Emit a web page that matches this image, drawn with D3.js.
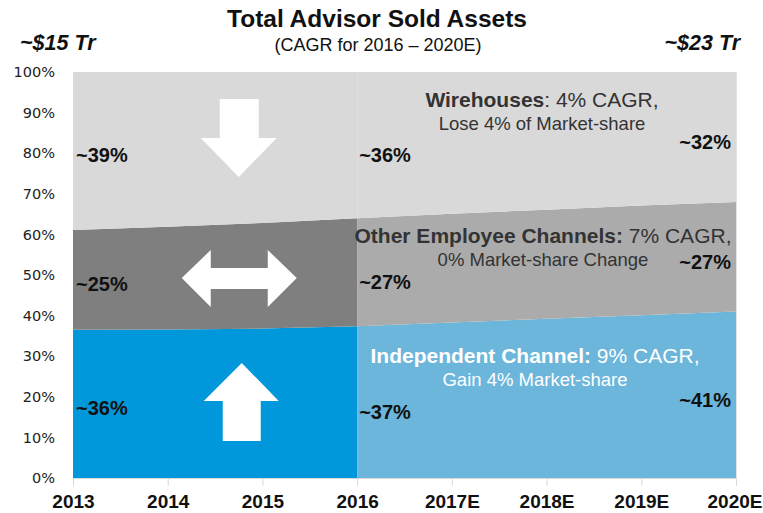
<!DOCTYPE html>
<html>
<head>
<meta charset="utf-8">
<script src="https://cdn.jsdelivr.net/npm/d3@7"></script>
<style>
  body { margin: 0; background: #fff; }
  svg { display: block; font-family: "Liberation Sans", Arial, sans-serif; }
</style>
</head>
<body>
<svg id="chart" width="763" height="513"></svg>
<script>
// years along the bottom, 2016 splits actual from estimate
var years = ["2013", "2014", "2015", "2016", "2017E", "2018E", "2019E", "2020E"];
var splitIndex = 3;

// market share (%) by channel
var independent = [36.5, 36.6, 36.8, 37.4, 38.3, 39.2, 40.1, 41.0];
var otherEmployee = [24.6, 25.3, 26.0, 26.6, 26.8, 26.9, 27.0, 27.0];
var wirehouses = years.map(function (y, i) { return 100 - independent[i] - otherEmployee[i]; });

var yTicks = [0, 10, 20, 30, 40, 50, 60, 70, 80, 90, 100];

// value callouts: start, 2016, end (bottom to top)
var labelsStart = ["~36%", "~25%", "~39%"];
var labelsMid = ["~37%", "~27%", "~36%"];
var labelsEnd = ["~41%", "~27%", "~32%"];

var keys = ["independent", "other", "wire"];
var histColors = { independent: "#0098da", other: "#7f7f7f", wire: "#d9d9d9" };
var fcstColors = { independent: "#6cb6db", other: "#ababab", wire: "#d9d9d9" };

var rows = years.map(function (y, i) {
  return { year: y, independent: independent[i], other: otherEmployee[i], wire: wirehouses[i] };
});

var svg = d3.select("#chart");
var x = d3.scalePoint().domain(years).range([73, 736]);
var y = d3.scaleLinear().domain([0, 100]).range([478, 72]);

var series = d3.stack().keys(keys)(rows);

var area = d3.area()
  .x(function (d) { return x(d.data.year); })
  .y0(function (d) { return y(d[0]); })
  .y1(function (d) { return y(d[1]); });

// historical part
svg.append("g").selectAll("path")
  .data(series)
  .join("path")
  .attr("fill", function (s) { return histColors[s.key]; })
  .attr("d", function (s) { return area(s.slice(0, splitIndex + 1)); });

// estimate part
svg.append("g").selectAll("path")
  .data(series)
  .join("path")
  .attr("fill", function (s) { return fcstColors[s.key]; })
  .attr("d", function (s) { return area(s.slice(splitIndex)); });

// right edge line
svg.append("line")
  .attr("x1", x(years[years.length - 1]) + 0.5).attr("x2", x(years[years.length - 1]) + 0.5)
  .attr("y1", y(100)).attr("y2", y(0))
  .attr("stroke", "#e3e3e3");

// axes
var yAxis = svg.append("g")
  .attr("transform", "translate(" + (x(years[0]) - 18) + ",0)")
  .call(d3.axisLeft(y).tickValues(yTicks).tickSize(0).tickPadding(0)
    .tickFormat(function (d) { return d + "%"; }));
yAxis.select(".domain").remove();
yAxis.selectAll("text")
  .attr("font-family", "'DejaVu Sans', Verdana, sans-serif")
  .attr("font-size", 14.5)
  .attr("fill", "#222");

var xAxis = svg.append("g")
  .attr("transform", "translate(0," + y(0) + ")")
  .call(d3.axisBottom(x).tickSize(8).tickPadding(9).tickSizeOuter(0));
xAxis.select(".domain").attr("stroke", "#d9d9d9");
xAxis.selectAll(".tick line").attr("stroke", "#d9d9d9");
xAxis.selectAll("text")
  .attr("font-family", "'Liberation Sans', Arial, sans-serif")
  .attr("font-size", 19)
  .attr("font-weight", "bold")
  .attr("fill", "#111");
// keep the last label inside the frame
xAxis.selectAll(".tick").filter(function (d) { return d === years[years.length - 1]; })
  .select("text").attr("text-anchor", "end").attr("dx", 26);

// value callouts
function mid(col, k) { return y((series[k][col][0] + series[k][col][1]) / 2); }
function callouts(labels, col, anchor, dx, dy) {
  svg.append("g").selectAll("text")
    .data(labels)
    .join("text")
    .attr("x", x(years[col]) + dx)
    .attr("y", function (d, k) { return mid(col, k) + dy; })
    .attr("text-anchor", anchor)
    .attr("font-size", 20)
    .attr("font-weight", "bold")
    .attr("fill", "#111")
    .text(function (d) { return d; });
}
callouts(labelsStart, 0, "start", 3, 11);
callouts(labelsMid, splitIndex, "start", 2, 17);
callouts(labelsEnd, years.length - 1, "end", -5, 12);

// channel notes
function note(cx, cy, bold, rest, line2, color) {
  var t = svg.append("text")
    .attr("x", cx).attr("y", cy)
    .attr("text-anchor", "middle")
    .attr("font-size", 21)
    .attr("fill", color);
  t.append("tspan").attr("font-weight", "bold").text(bold);
  t.append("tspan").text(rest);
  svg.append("text")
    .attr("x", cx).attr("y", cy + 23)
    .attr("text-anchor", "middle")
    .attr("font-size", 18.5)
    .attr("fill", color)
    .text(line2);
}
note(542, 107, "Wirehouses", ": 4% CAGR,", "Lose 4% of Market-share", "#333");
note(543, 243, "Other Employee Channels:", " 7% CAGR,", "0% Market-share Change", "#333");
note(535, 363, "Independent Channel:", " 9% CAGR,", "Gain 4% Market-share", "#fff");

// arrows
var arrowX = x(years[1]) + 0.75 * (x(years[2]) - x(years[1]));
svg.append("path")
  .attr("fill", "#fff")
  .attr("d", "M" + (arrowX - 19) + ",99 h39 v39 h18 l-38,39 l-38,-39 h19 z");
svg.append("path")
  .attr("fill", "#fff")
  .attr("d", "M" + (arrowX - 57) + ",278 l29,-28 v18 h57 v-18 l29,28 l-29,29 v-18 h-57 v18 z");
svg.append("path")
  .attr("fill", "#fff")
  .attr("d", "M" + (arrowX + 3) + ",363 l37,38 h-18 v40 h-38 v-40 h-19 z");

// titles
svg.append("text")
  .attr("x", 377).attr("y", 27)
  .attr("text-anchor", "middle")
  .attr("font-size", 24.5)
  .attr("font-weight", "bold")
  .attr("fill", "#111")
  .text("Total Advisor Sold Assets");
svg.append("text")
  .attr("x", 378).attr("y", 51)
  .attr("text-anchor", "middle")
  .attr("font-size", 18)
  .attr("fill", "#111")
  .text("(CAGR for 2016 \u2013 2020E)");
svg.append("text")
  .attr("x", 20).attr("y", 50)
  .attr("font-size", 21.5).attr("font-weight", "bold").attr("font-style", "italic")
  .attr("fill", "#111")
  .text("~$15 Tr");
svg.append("text")
  .attr("x", 740).attr("y", 50)
  .attr("text-anchor", "end")
  .attr("font-size", 21.5).attr("font-weight", "bold").attr("font-style", "italic")
  .attr("fill", "#111")
  .text("~$23 Tr");
</script>
</body>
</html>
